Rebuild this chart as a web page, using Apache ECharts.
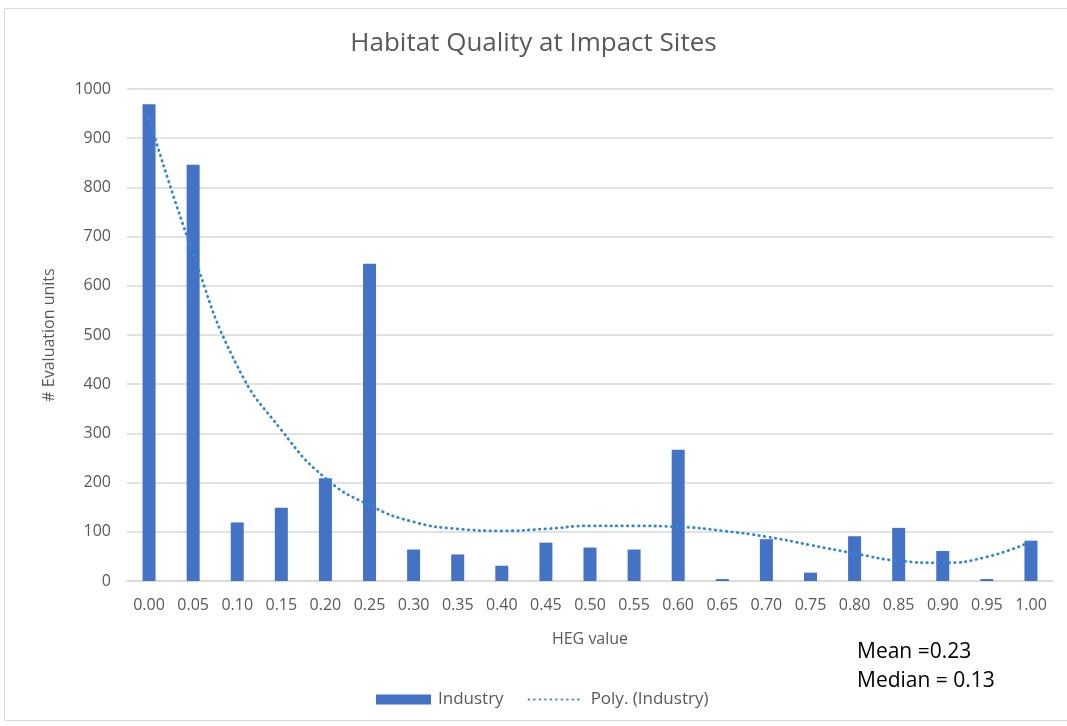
<!DOCTYPE html>
<html>
<head>
<meta charset="utf-8">
<script src="https://cdn.jsdelivr.net/npm/echarts@6/dist/echarts.min.js"></script>
<style>
  html, body { margin: 0; padding: 0; background: #fff; }
  #chart { width: 1067px; height: 726px; }
</style>
</head>
<body>
<div id="chart"></div>
<script>
// HEG value bins
const categories = ['0.00','0.05','0.10','0.15','0.20','0.25','0.30','0.35','0.40','0.45','0.50',
                    '0.55','0.60','0.65','0.70','0.75','0.80','0.85','0.90','0.95','1.00'];
// Number of evaluation units per bin
const industry = [969, 846, 119, 149, 209, 645, 64, 54, 31, 78, 68, 64, 267, 4, 85, 17, 91, 108, 61, 4, 82];
// Polynomial trend of the Industry counts, sampled at each bin
const polyTrend = [940, 665, 437, 307, 209, 154, 120, 106, 102, 106, 112, 112, 110, 102, 90, 73, 56, 41, 37, 49, 80];
const yTicks = { min: 0, max: 1000, interval: 100 };
const statsText = ['Mean =0.23', 'Median = 0.13'];

const FONT = '"Open Sans", "Noto Sans", sans-serif';
const GREY = '#595959';
const BAR_BLUE = '#4472C4';
const TREND_BLUE = '#2E86D1';

const chart = echarts.init(document.getElementById('chart'), null, { renderer: 'canvas' });
chart.setOption({
  backgroundColor: '#ffffff',
  animation: false,
  title: {
    text: 'Habitat Quality at Impact Sites',
    left: 'center',
    top: 26,
    textStyle: { fontFamily: FONT, fontSize: 26, fontWeight: 'normal', color: GREY }
  },
  grid: { left: 127, right: 14, top: 89, bottom: 145, containLabel: false },
  legend: {
    top: 691,
    left: 376,
    padding: 0,
    itemGap: 24,
    itemWidth: 55,
    itemHeight: 10,
    textStyle: { fontFamily: FONT, fontSize: 17, color: GREY, padding: [0, 0, 0, 2] },
    data: [
      { name: 'Industry', icon: 'rect' },
      { name: 'Poly. (Industry)', itemStyle: { color: 'rgba(0,0,0,0)', borderWidth: 0 } }
    ]
  },
  xAxis: {
    type: 'category',
    data: categories,
    name: 'HEG value',
    nameLocation: 'middle',
    nameGap: 50,
    nameTextStyle: { fontFamily: FONT, fontSize: 16, color: GREY },
    axisLine: { lineStyle: { color: '#D9D9D9', width: 1.5 } },
    axisTick: { show: false },
    axisLabel: { fontFamily: FONT, fontSize: 16, color: GREY, margin: 16, interval: 0 }
  },
  yAxis: {
    type: 'value',
    min: yTicks.min,
    max: yTicks.max,
    interval: yTicks.interval,
    name: '# Evaluation units',
    nameLocation: 'middle',
    nameGap: 70,
    nameTextStyle: { fontFamily: FONT, fontSize: 16, color: GREY },
    axisLine: { show: false },
    axisTick: { show: false },
    axisLabel: { fontFamily: FONT, fontSize: 16, color: GREY, margin: 16, formatter: v => String(v) },
    splitLine: { lineStyle: { color: '#D9D9D9', width: 1.5 } }
  },
  series: [
    {
      name: 'Industry',
      type: 'bar',
      data: industry,
      barWidth: 13,
      itemStyle: { color: BAR_BLUE }
    },
    {
      name: 'Poly. (Industry)',
      type: 'line',
      data: polyTrend,
      smooth: 0.5,
      symbol: 'none',
      lineStyle: { color: TREND_BLUE, width: 2.8, type: [0.5, 5], cap: 'round' },
      itemStyle: { color: TREND_BLUE },
      z: 3
    }
  ],
  graphic: [
    {
      type: 'rect',
      shape: { x: 4.5, y: 8.5, width: 1070, height: 712 },
      style: { fill: 'none', stroke: '#D9D9D9', lineWidth: 1 },
      silent: true
    },
    {
      type: 'text',
      x: 857,
      y: 652,
      style: { text: statsText[0], fontFamily: FONT, fontSize: 21, fill: '#000', verticalAlign: 'middle' }
    },
    {
      type: 'text',
      x: 857,
      y: 681,
      style: { text: statsText[1], fontFamily: FONT, fontSize: 21, fill: '#000', verticalAlign: 'middle' }
    }
  ]
});
</script>
</body>
</html>
